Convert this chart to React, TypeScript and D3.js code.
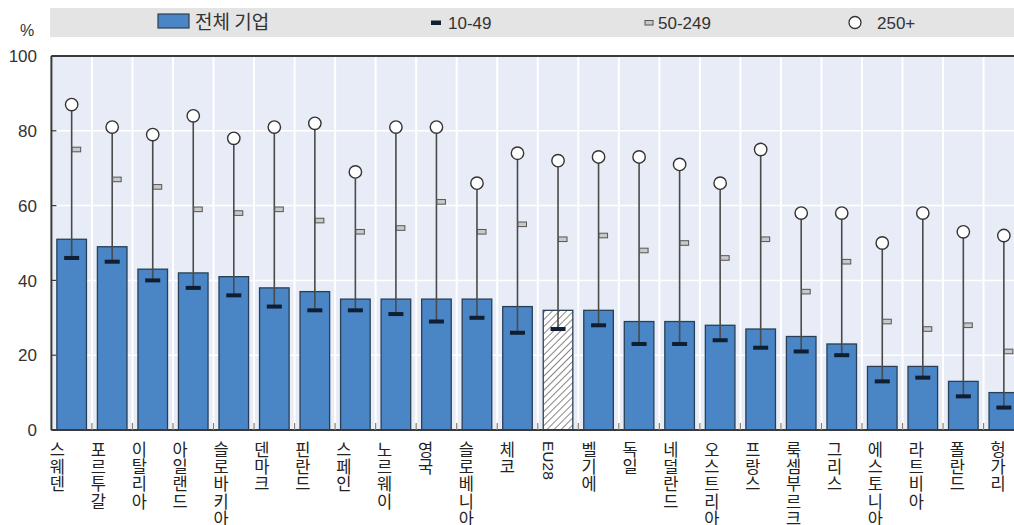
import React from 'react';
import * as d3 from 'd3';

const categories = ['스웨덴','포르투갈','이탈리아','아일랜드','슬로바키아','덴마크','핀란드','스페인','노르웨이','영국','슬로베니아','체코','EU28','벨기에','독일','네덜란드','오스트리아','프랑스','룩셈부르크','그리스','에스토니아','라트비아','폴란드','헝가리'];
const allFirms = [51,49,43,42,41,38,37,35,35,35,35,33,32,32,29,29,28,27,25,23,17,17,13,10];
const small1049 = [46,45,40,38,36,33,32,32,31,29,30,26,27,28,23,23,24,22,21,20,13,14,9,6];
const medium50249 = [75,67,65,59,58,59,56,53,54,61,53,55,51,52,48,50,46,51,37,45,29,27,28,21];
const large250 = [87,81,79,84,78,81,82,69,81,81,66,74,72,73,73,71,66,75,58,58,50,58,53,52];
const yTicks = [0,20,40,60,80,100];
const highlight = 'EU28';
const legendLabels = ['전체 기업','10-49','50-249','250+'];

const W = 1014, H = 525;
const left = 51.4, top = 56, bottom = 430;
const step = 40.53;
const sans = '"Liberation Sans", Arial, sans-serif';
const kr = '"Noto Sans CJK KR", sans-serif';

export default function App() {
  const x = d3.scaleBand<string>().domain(categories).range([left, left + step * categories.length]).paddingInner(0.27).paddingOuter(0.135);
  const xl = d3.scaleBand<string>().domain(categories).range([37, 37 + 40.9 * categories.length]);
  const y = d3.scaleLinear().domain([0, 100]).range([bottom, top]);
  const bw = x.bandwidth();
  const cx = (c: string) => (x(c) as number) + bw / 2;

  return (
    <div style={{ position: 'absolute', left: 0, top: 0 }}>
      <svg width={W} height={H} style={{ display: 'block', background: '#fff' }}>
        <defs>
          <pattern id="hatch" width={5} height={5} patternUnits="userSpaceOnUse" patternTransform="rotate(45)">
            <rect width={5} height={5} fill="#fff" />
            <line x1={0} y1={0} x2={0} y2={5} stroke="#333" strokeWidth={1.2} />
          </pattern>
        </defs>
        {/* legend band */}
        <rect x={50} y={8} width={W - 50} height={29} fill="#e4e4e4" />
        <rect x={158} y={14} width={31} height={14} fill="#4a85c5" stroke="#2a3f55" strokeWidth={1.2} />
        <text x={195} y={29} fontFamily={kr} fontSize={19} fill="#333">{legendLabels[0]}</text>
        <rect x={431} y={20.5} width={10} height={4.5} fill="#0f1e30" />
        <text x={448} y={29} fontFamily={sans} fontSize={17} fill="#333">{legendLabels[1]}</text>
        <rect x={645} y={20.5} width={8} height={4.5} fill="#c9c9c9" stroke="#555" strokeWidth={1} />
        <text x={658} y={29} fontFamily={sans} fontSize={17} fill="#333">{legendLabels[2]}</text>
        <circle cx={855} cy={22.5} r={6} fill="#fff" stroke="#333" strokeWidth={1.3} />
        <text x={877} y={29} fontFamily={sans} fontSize={17} fill="#333">{legendLabels[3]}</text>

        {/* plot background */}
        <rect x={left} y={top} width={W - left} height={bottom - top} fill="#e7ecf6" />
        {yTicks.filter(t => t > 0 && t < 100).map(t => (
          <line key={'g' + t} x1={left} x2={W} y1={y(t)} y2={y(t)} stroke="#fff" strokeWidth={1.5} />
        ))}
        {categories.map((c, i) => i > 0 ? (
          <line key={'v' + c} x1={left + step * i} x2={left + step * i} y1={top} y2={bottom} stroke="#fff" strokeWidth={2} />
        ) : null)}

        {/* bars */}
        {categories.map((c, i) => (
          <rect key={'b' + c} x={x(c)} y={y(allFirms[i])} width={bw} height={y(0) - y(allFirms[i])}
            fill={c === highlight ? 'url(#hatch)' : '#4a85c5'} stroke="#2a3f55" strokeWidth={1.3} />
        ))}
        {/* ranges */}
        {categories.map((c, i) => (
          <g key={'r' + c}>
            <line x1={cx(c)} x2={cx(c)} y1={y(small1049[i])} y2={y(large250[i])} stroke="#4a4a4a" strokeWidth={1.6} />
            <rect x={cx(c) + 0.5} y={y(medium50249[i]) - 2.3} width={8.5} height={4.6} fill="#c9c9c9" stroke="#555" strokeWidth={1} />
            <rect x={cx(c) - 7.5} y={y(small1049[i]) - 2} width={15} height={4} fill="#0f1e30" />
            <circle cx={cx(c)} cy={y(large250[i])} r={6.2} fill="#fff" stroke="#333" strokeWidth={1.4} />
          </g>
        ))}

        {/* axes */}
        <line x1={left} x2={W} y1={top} y2={top} stroke="#3a3a3a" strokeWidth={2} />
        <line x1={left} x2={left} y1={top} y2={bottom} stroke="#3a3a3a" strokeWidth={2} />
        <line x1={left} x2={W} y1={bottom} y2={bottom} stroke="#3a3a3a" strokeWidth={2} />
        {yTicks.map(t => (
          <g key={'t' + t}>
            <line x1={left} x2={left + 5} y1={y(t)} y2={y(t)} stroke="#3a3a3a" strokeWidth={1.2} />
            <text x={37} y={y(t)} dy="0.36em" textAnchor="end" fontFamily={sans} fontSize={17} fill="#333">{t}</text>
          </g>
        ))}
        {categories.map((c, i) => i > 0 ? (
          <line key={'xt' + c} x1={left + step * i} x2={left + step * i} y1={bottom - 7} y2={bottom} stroke="#8a7d68" strokeWidth={1.2} />
        ) : null)}
        <text x={27} y={30} dy="0.35em" textAnchor="middle" fontFamily={sans} fontSize={16} fill="#333">%</text>

        {/* category labels */}
        {categories.map(c => {
          const lx = (xl(c) as number) + xl.bandwidth() / 2;
          if (c === highlight) {
            return (
              <text key={'l' + c} transform={`translate(${lx},441) rotate(90)`} dy="0.35em" fontFamily={sans} fontSize={15.5} fill="#222">{c}</text>
            );
          }
          return (
            <text key={'l' + c} fontFamily={kr} fontSize={16.5} fill="#222" textAnchor="middle">
              {Array.from(c).map((ch, k) => (
                <tspan key={k} x={lx} y={450 + k * 17.3} dy="0.35em">{ch}</tspan>
              ))}
            </text>
          );
        })}
      </svg>
    </div>
  );
}
